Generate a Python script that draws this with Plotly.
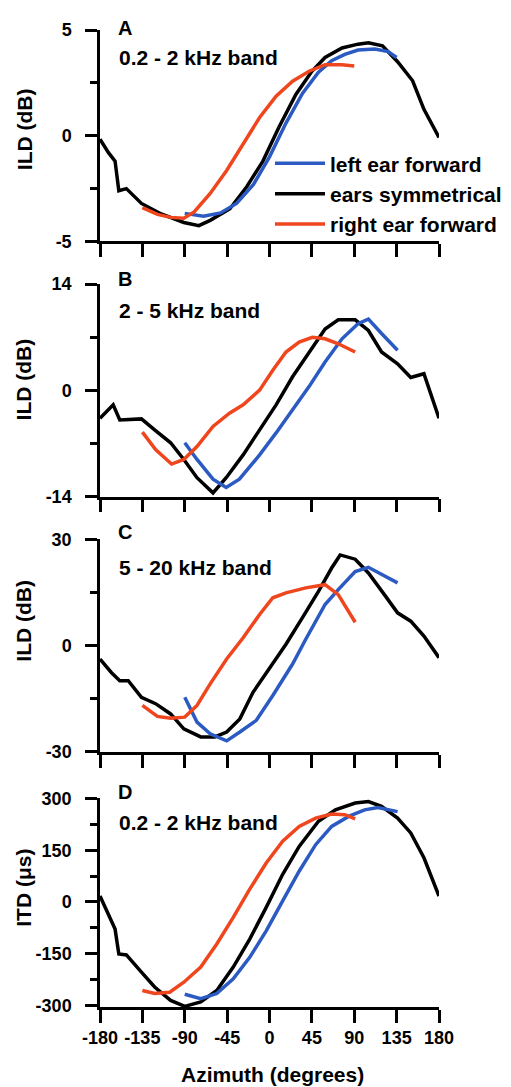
import plotly.graph_objects as go

# ---------------- data ----------------
az_ticks = [-180, -135, -90, -45, 0, 45, 90, 135, 180]
az_tick_labels = ["-180", "-135", "-90", "-45", "0", "45", "90", "135", "180"]

series_names = ["left ear forward", "ears symmetrical", "right ear forward"]
panel_letters = ["A", "B", "C", "D"]
band_labels = ["0.2 - 2 kHz band", "2 - 5 kHz band", "5 - 20 kHz band", "0.2 - 2 kHz band"]
y_titles = ["ILD (dB)", "ILD (dB)", "ILD (dB)", "ITD (μs)"]

# Panel A: ILD 0.2-2 kHz
a_sym_az = [-180, -171, -164, -160, -152, -136, -115, -91, -75, -63, -42, -24, -7, 10, 28, 45, 59, 77, 94, 105, 120, 136, 152, 164, 180]
a_sym = [-0.16, -0.8, -1.2, -2.6, -2.5, -3.2, -3.7, -4.1, -4.25, -4.0, -3.45, -2.4, -1.2, 0.4, 1.95, 3.05, 3.7, 4.15, 4.33, 4.4, 4.25, 3.5, 2.6, 1.25, -0.08]
a_left_az = [-90, -70, -52, -35, -17, 0, 17.5, 35, 52, 66, 80, 94, 112, 126, 135]
a_left = [-3.67, -3.8, -3.65, -3.2, -2.3, -1.0, 0.6, 2.0, 3.0, 3.55, 3.85, 4.05, 4.1, 3.98, 3.7]
a_right_az = [-135, -119, -105, -91, -80, -63, -45.5, -28, -10.5, 7, 24.5, 42, 59, 77, 90]
a_right = [-3.4, -3.72, -3.86, -3.9, -3.6, -2.73, -1.64, -0.39, 0.86, 1.875, 2.58, 3.05, 3.36, 3.36, 3.3]

# Panel B: ILD 2-5 kHz
b_sym_az = [-180, -166, -159, -136, -122, -105, -91, -77, -60, -46, -28, -10.5, 7, 24.5, 42, 59, 73, 91, 105, 119, 136, 150, 164, 171, 180]
b_sym = [-3.66, -1.9, -3.9, -3.75, -5.2, -6.9, -9.1, -11.5, -13.5, -11.5, -8.5, -5.2, -1.9, 1.8, 5.06, 8.1, 9.3, 9.3, 7.9, 5.06, 3.5, 1.7, 2.2, -0.4, -3.66]
b_left_az = [-90, -77, -60, -46, -32, -10.5, 7, 24.5, 42, 59, 77, 94, 105, 119, 136]
b_left = [-6.9, -9.1, -11.7, -12.8, -11.7, -8.5, -5.6, -2.6, 0.5, 3.75, 6.8, 8.8, 9.4, 7.5, 5.3]
b_right_az = [-135, -121, -104, -91, -77, -60, -42.5, -28, -10.5, 3.5, 17.5, 31.5, 45.5, 59, 73, 91]
b_right = [-5.5, -7.8, -9.7, -9.1, -7.4, -4.75, -3.0, -1.9, 0.04, 2.66, 5.06, 6.37, 7.0, 6.8, 6.15, 5.06]

# Panel C: ILD 5-20 kHz
c_sym_az = [-180, -168, -159, -150, -136, -121, -105, -91, -73, -58, -45.5, -31.5, -17.5, 0, 17.5, 35, 52, 66, 75, 91, 105, 122, 136, 150, 164, 180]
c_sym = [-3.8, -7.6, -9.9, -9.9, -14.6, -16.4, -19.3, -23.5, -25.8, -25.8, -24.4, -20.7, -13.2, -6.6, 0.4, 7.9, 15.3, 21.9, 25.6, 24.4, 20.5, 14.4, 9.25, 6.9, 2.7, -3.4]
c_left_az = [-90, -77, -63, -45.5, -31.5, -14, 3.5, 24.5, 38.5, 59, 73, 91, 105, 119, 136]
c_left = [-14.6, -21.6, -24.9, -26.9, -24.4, -21.1, -14.1, -5.2, 1.8, 11.6, 15.8, 20.9, 22.1, 20.0, 17.7]
c_right_az = [-135, -119, -105, -90, -77, -63, -45.5, -28, -10.5, 3.5, 17.5, 38.5, 59, 73, 91]
c_right = [-16.9, -20.0, -20.5, -20.2, -16.9, -10.8, -3.8, 2.2, 8.8, 13.5, 14.9, 16.3, 17.2, 14.4, 6.6]

# Panel D: ITD 0.2-2 kHz
d_sym_az = [-180, -171, -164, -160, -152, -136, -122, -105, -90, -73, -56, -38.5, -21, -3.5, 14, 31.5, 52, 70, 91, 105, 119, 136, 150, 164, 180]
d_sym = [17, -36, -79, -151, -154, -204, -247, -286, -303, -290, -257, -189, -108, -16, 80, 161, 234, 267, 287, 291, 277, 243, 200, 128, 17]
d_left_az = [-90, -73, -56, -38.5, -21, -3.5, 14, 31.5, 49, 66, 84, 101, 115, 136]
d_left = [-268, -281, -266, -223, -161, -84, 3, 89, 166, 219, 248, 267, 274, 262]
d_right_az = [-135, -122, -106, -91, -73, -56, -38.5, -21, -3.5, 14, 31.5, 49, 66, 80, 91]
d_right = [-257, -266, -262, -233, -189, -122, -45, 37, 113, 176, 219, 243, 255, 253, 241]

# y tick values / labels per panel
y_tickvals = [[-5, 0, 5], [-14, 0, 14], [-30, 0, 30], [-300, -150, 0, 150, 300]]
y_ticklabels = [["-5", "0", "5"], ["-14", "0", "14"], ["-30", "0", "30"], ["-300", "-150", "0", "150", "300"]]
y_minor = [2.5, 7, 15, 75]
y_ranges = [[-5, 5], [-14, 14], [-30, 30], [-305, 300]]

# ---------------- style ----------------
FONT = "Liberation Sans, Arial, sans-serif"
BLUE = "#2b5bc2"
BLACK = "#000000"
ORANGE = "#f0461e"
colors = {"left ear forward": BLUE, "ears symmetrical": BLACK, "right ear forward": ORANGE}
legend_rank = {"left ear forward": 1, "ears symmetrical": 2, "right ear forward": 3}

panels = [
    (a_left_az, a_left, a_sym_az, a_sym, a_right_az, a_right),
    (b_left_az, b_left, b_sym_az, b_sym, b_right_az, b_right),
    (c_left_az, c_left, c_sym_az, c_sym, c_right_az, c_right),
    (d_left_az, d_left, d_sym_az, d_sym, d_right_az, d_right),
]

# page offset of the figure (default body margin of the html page)
OFF = 8
W, H = 511, 1087
# target page-pixel geometry of the plotting area
PLOT_L, PLOT_R, PLOT_T, PLOT_B = 100, 443, 23, 1007
ML = PLOT_L - OFF
MT = PLOT_T - OFF
MR = W - (PLOT_R - OFF)
MB = H - (PLOT_B - OFF)
PH = PLOT_B - PLOT_T
PW = PLOT_R - PLOT_L


def py(pix):
    return (PLOT_B - pix) / PH


def px(pix):
    return (pix - PLOT_L) / PW


# page-pixel tops/bottoms of each panel
panel_pix = [(23, 236), (279, 493), (536, 750), (797, 1007)]

fig = go.Figure()

for i, (lx, ly, sx, sy, rx, ry) in enumerate(panels):
    xa = "x" if i == 0 else f"x{i+1}"
    ya = "y" if i == 0 else f"y{i+1}"
    for name, xs, ys in [("ears symmetrical", sx, sy), ("left ear forward", lx, ly), ("right ear forward", rx, ry)]:
        fig.add_trace(go.Scatter(
            x=xs, y=ys, mode="lines", name=name,
            line=dict(color=colors[name], width=3.5),
            xaxis=xa, yaxis=ya,
            showlegend=(i == 0), legendgroup=name, legendrank=legend_rank[name],
            hoverinfo="skip",
        ))

layout = dict(
    width=W, height=H,
    margin=dict(l=ML, r=MR, t=MT, b=MB),
    paper_bgcolor="white", plot_bgcolor="white",
    font=dict(family=FONT, color="black"),
    showlegend=True,
    legend=dict(
        x=px(272), y=py(137), xanchor="left", yanchor="top",
        bgcolor="rgba(0,0,0,0)", borderwidth=0,
        font=dict(family=FONT, size=21, color="black", weight="bold"),
        tracegroupgap=0, itemwidth=50,
    ),
)

annotations = []
for i in range(4):
    top, bot = panel_pix[i]
    xkey = "xaxis" if i == 0 else f"xaxis{i+1}"
    ykey = "yaxis" if i == 0 else f"yaxis{i+1}"
    layout[xkey] = dict(
        domain=[0, 1], range=[-180, 180], anchor="y" if i == 0 else f"y{i+1}",
        tickmode="array", tickvals=az_ticks, ticktext=az_tick_labels,
        showticklabels=(i == 3), ticks="outside", ticklen=13, tickwidth=2.5, tickcolor="black",
        showline=True, linewidth=2.5, linecolor="black", showgrid=False, zeroline=False,
        tickfont=dict(family=FONT, size=18, color="black", weight="bold"),
        ticklabelstandoff=0,
    )
    layout[ykey] = dict(
        domain=[py(bot), py(top)], range=y_ranges[i], anchor="x" if i == 0 else f"x{i+1}",
        tickmode="array", tickvals=y_tickvals[i], ticktext=y_ticklabels[i],
        ticks="outside", ticklen=12, tickwidth=2.5, tickcolor="black",
        minor=dict(ticks="outside", ticklen=7, tickwidth=2.5, tickcolor="black", dtick=y_minor[i], tick0=0, showgrid=False),
        showline=True, linewidth=2.5, linecolor="black", showgrid=False, zeroline=False,
        tickfont=dict(family=FONT, size=18, color="black", weight="bold"),
        ticklabelstandoff=10,
    )

letter_y = [21, 274, 529, 790]
band_y = [51, 306, 564, 821]
ytitle_y = [123, 375, 618, 887]
for i in range(4):
    annotations.append(dict(text=f"<b>{panel_letters[i]}</b>", xref="paper", yref="paper",
                            x=px(116), y=py(letter_y[i]), xanchor="left", yanchor="middle",
                            showarrow=False, font=dict(family=FONT, size=20, color="black")))
    annotations.append(dict(text=f"<b>{band_labels[i]}</b>", xref="paper", yref="paper",
                            x=px(117), y=py(band_y[i]), xanchor="left", yanchor="middle",
                            showarrow=False, font=dict(family=FONT, size=21, color="black")))
    annotations.append(dict(text=f"<b>{y_titles[i]}</b>", xref="paper", yref="paper",
                            x=px(23), y=py(ytitle_y[i]), xanchor="center", yanchor="middle",
                            textangle=-90, showarrow=False, font=dict(family=FONT, size=21, color="black")))

annotations.append(dict(text="<b>Azimuth (degrees)</b>", xref="paper", yref="paper",
                        x=px(275), y=py(1075), xanchor="center", yanchor="middle",
                        showarrow=False, font=dict(family=FONT, size=21, color="black")))
layout["annotations"] = annotations

fig.update_layout(**layout)
fig.write_html("out.html")
